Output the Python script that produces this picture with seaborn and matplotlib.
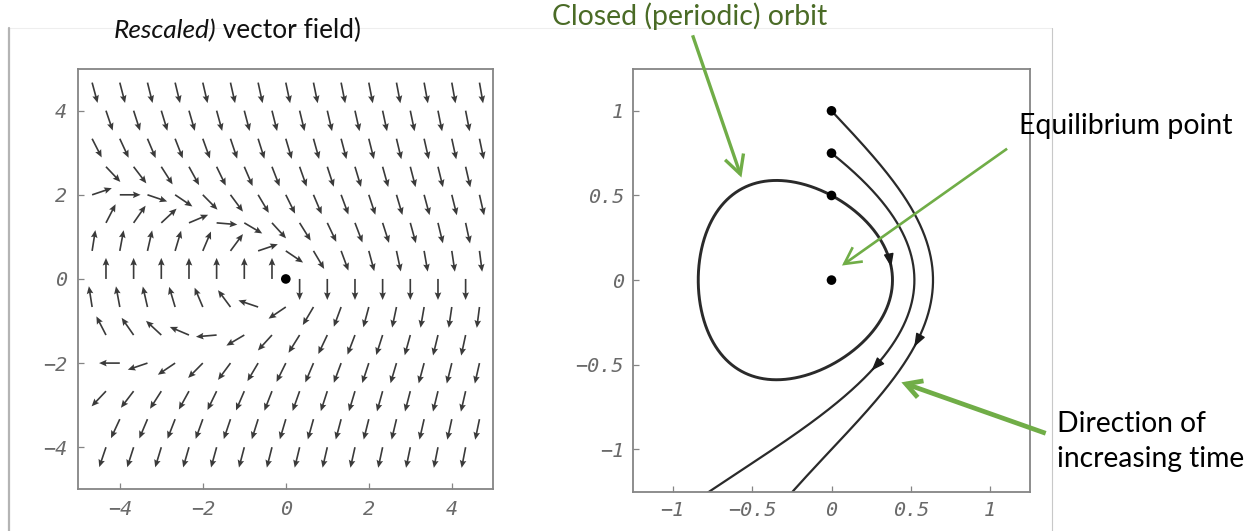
import numpy as np
import matplotlib
matplotlib.use("Agg")
import matplotlib.pyplot as plt
import seaborn as sns
from matplotlib.lines import Line2D

# ---------------- data ----------------
# planar system drawn in both panels:  x' = y ,  y' = -x - y^2
# sample rows of the (rescaled) vector field and their staggered columns
ROW_Y = [4.667, 4.0, 3.333, 2.667, 2.0, 1.333, 0.667, 0.0,
         -0.667, -1.333, -2.0, -2.667, -3.333, -4.0, -4.667]
COLS_EVEN = [-4.667, -4.0, -3.333, -2.667, -2.0, -1.333, -0.667, 0.0,
             0.667, 1.333, 2.0, 2.667, 3.333, 4.0, 4.667]
COLS_ODD = [-4.333, -3.667, -3.0, -2.333, -1.667, -1.0, -0.333,
            0.333, 1.0, 1.667, 2.333, 3.0, 3.667, 4.333]

EQUIL_X = [0.0]
EQUIL_Y = [0.0]
START_X = [0.0, 0.0, 0.0]          # closed orbit, middle, outer trajectory
START_Y = [0.5, 0.75, 1.0]
ARROW_AT_Y = [0.08, -0.53, -0.39]  # where direction arrowheads sit

LEFT_TICKS = [-4, -2, 0, 2, 4]
LEFT_LABELS = ["\u22124", "\u22122", "0", "2", "4"]
RIGHT_TICKS = [-1, -0.5, 0, 0.5, 1]
RIGHT_LABELS = ["\u22121", "\u22120.5", "0", "0.5", "1"]

TITLE_ITALIC = "Rescaled)"
TITLE_REST = " vector field)"
NOTE_ORBIT = "Closed (periodic) orbit"
NOTE_EQUIL = "Equilibrium point"
NOTE_TIME = ["Direction of", "increasing time"]

# ---------------- helpers ----------------
def rhs(p):
    x, y = p
    return np.array([y, -x - y * y])


def rk4(p0, dt, nmax, closed):
    p = np.array(p0, float)
    pts = [p.copy()]
    for i in range(nmax):
        k1 = rhs(p)
        k2 = rhs(p + dt / 2 * k1)
        k3 = rhs(p + dt / 2 * k2)
        k4 = rhs(p + dt * k3)
        q = p + dt / 6 * (k1 + 2 * k2 + 2 * k3 + k4)
        if closed and i * dt > 1 and p[0] < 0 <= q[0] and q[1] > 0:
            pts.append(np.array(p0, float))
            break
        pts.append(q)
        if not closed and q[1] < -1.4:
            break
        p = q
    return np.array(pts)


W, H = 1256, 531
sns.set_style("white")
plt.rcParams["font.family"] = ["Lato", "DejaVu Sans"]

fig = plt.figure(figsize=(W / 100, H / 100), dpi=100)
fig.patch.set_facecolor("white")


def fx(px):
    return px / W


def fy(py):
    return 1 - py / H


ax1 = fig.add_axes([fx(78.3), fy(489.3), 415 / W, 420.7 / H])
ax2 = fig.add_axes([fx(633), fy(491.7), 397 / W, 423.2 / H])

FRAME = "#858585"
for ax in (ax1, ax2):
    for s in ax.spines.values():
        s.set_visible(True)
        s.set_color(FRAME)
        s.set_linewidth(1.3)
    ax.set_facecolor("white")
    ax.grid(False)

# ---------------- left: rescaled vector field ----------------
ARROW_LEN = 0.5
X, Y, U, V = [], [], [], []
for j, yv in enumerate(ROW_Y):
    cols = COLS_EVEN if j % 2 == 0 else COLS_ODD
    for xv in cols:
        d = rhs((xv, yv))
        n = np.hypot(*d)
        if n == 0:
            continue
        u, v = d / n * ARROW_LEN
        hx, hy = xv + u, yv + v
        if abs(hx) > 4.85 or abs(hy) > 4.85:
            continue
        X.append(xv); Y.append(yv); U.append(u); V.append(v)

ax1.quiver(X, Y, U, V, angles="xy", scale_units="xy", scale=1, pivot="tail",
           color="#3a3a3a", width=0.0040, headwidth=4.0, headlength=4.6,
           headaxislength=4.0)
sns.scatterplot(x=EQUIL_X, y=EQUIL_Y, ax=ax1, s=48, color="black",
                edgecolor="none", legend=False, zorder=5)
ax1.set_xlim(-5, 5)
ax1.set_ylim(-5, 5)

# ---------------- right: trajectories ----------------
for k, (sx, sy) in enumerate(zip(START_X, START_Y)):
    pts = rk4((sx, sy), 0.002, 20000, closed=(k == 0))
    sns.lineplot(x=pts[:, 0], y=pts[:, 1], ax=ax2, sort=False, estimator=None,
                 color="#2a2a2a", lw=2.1 if k == 0 else 1.6, legend=False)
    idx = int(np.argmax(pts[:, 1] < ARROW_AT_Y[k]))
    a = pts[max(idx - 3, 0)]
    b = pts[idx + 3]
    ax2.annotate("", xy=(b[0], b[1]), xytext=(a[0], a[1]),
                 arrowprops=dict(arrowstyle="-|>,head_length=0.8,head_width=0.3",
                                 color="#1a1a1a", lw=1.0, mutation_scale=10,
                                 shrinkA=0, shrinkB=0))

sns.scatterplot(x=START_X + EQUIL_X, y=START_Y + EQUIL_Y, ax=ax2, s=48,
                color="black", edgecolor="none", legend=False, zorder=5)
ax2.set_xlim(-1.25, 1.25)
ax2.set_ylim(-1.25, 1.25)

# ---------------- ticks ----------------
TICKFONT = dict(family="DejaVu Sans Mono", style="oblique", size=14.5)
for ax, ticks, labels, pad in ((ax1, LEFT_TICKS, LEFT_LABELS, 8),
                               (ax2, RIGHT_TICKS, RIGHT_LABELS, 6.5)):
    ax.set_xticks(ticks)
    ax.set_yticks(ticks)
    ax.set_xticklabels(labels, fontdict=TICKFONT)
    ax.set_yticklabels(labels, fontdict=TICKFONT)
    ax.tick_params(direction="in", length=4, width=0.9, color=FRAME,
                   labelcolor="#6a6a6a", pad=pad, bottom=True, left=True,
                   top=False, right=False)
    ax.set_xlabel("")
    ax.set_ylabel("")

# ---------------- slide decorations ----------------
fig.add_artist(Line2D([fx(8), fx(1052)], [fy(28.3), fy(28.3)],
                      color="#eeeeee", lw=0.8))
fig.add_artist(Line2D([fx(8.5), fx(8.5)], [fy(28.3), 0],
                      color="#b4b4b4", lw=1.6))
fig.add_artist(Line2D([fx(1052.3), fx(1052.3)], [fy(28.3), 0],
                      color="#c8c8c8", lw=0.8))

# ---------------- texts ----------------
renderer = fig.canvas.get_renderer()


def fit(t, target):
    w = t.get_window_extent(renderer).width
    t.set_fontsize(t.get_fontsize() * target / w)


t1 = fig.text(fx(113.3), fy(38.3), TITLE_ITALIC, fontsize=15, style="italic",
              color="#111111", va="baseline", ha="left")
t2 = fig.text(fx(200), fy(38.3), TITLE_REST, fontsize=15,
              color="#111111", va="baseline", ha="left")
w1 = t1.get_window_extent(renderer).width
w2 = t2.get_window_extent(renderer).width
scale = 248.4 / (w1 + w2)
t1.set_fontsize(15 * scale)
t2.set_fontsize(15 * scale)
w1 = t1.get_window_extent(renderer).width
t2.set_x(fx(113.3 + w1))

GREEN_TXT = "#4a6b26"
t3 = fig.text(fx(552), fy(25), NOTE_ORBIT, fontsize=18, color=GREEN_TXT,
              va="baseline", ha="left")
fit(t3, 274)
t4 = fig.text(fx(1019), fy(133.5), NOTE_EQUIL, fontsize=18, color="black",
              va="baseline", ha="left")
fit(t4, 212)
t5 = fig.text(fx(1056.7), fy(431.7), NOTE_TIME[0], fontsize=18, color="black",
              va="baseline", ha="left")
t6 = fig.text(fx(1056.7), fy(467.3), NOTE_TIME[1], fontsize=18, color="black",
              va="baseline", ha="left")
fit(t6, 186.6)
t5.set_fontsize(t6.get_fontsize())

# ---------------- green pointer arrows ----------------
GREEN = "#70ad47"
for tip, tail, lw, hl, hw in (((-0.567, 0.606), (692.6, 35.3), 2.4, 0.95, 0.5),
                              ((0.066, 0.086), (1007.1, 148.7), 1.9, 0.85, 0.45),
                              ((0.44, -0.604), (1045.7, 433.3), 3.4, 0.8, 0.45)):
    ax2.annotate("", xy=tip, xycoords="data",
                 xytext=(fx(tail[0]), fy(tail[1])), textcoords="figure fraction",
                 annotation_clip=False,
                 arrowprops=dict(arrowstyle=f"->,head_length={hl},head_width={hw}",
                                 color=GREEN, lw=lw, mutation_scale=14,
                                 shrinkA=0, shrinkB=0, capstyle="butt",
                                 joinstyle="miter"))

fig.savefig("out.png", dpi=100, facecolor="white")
